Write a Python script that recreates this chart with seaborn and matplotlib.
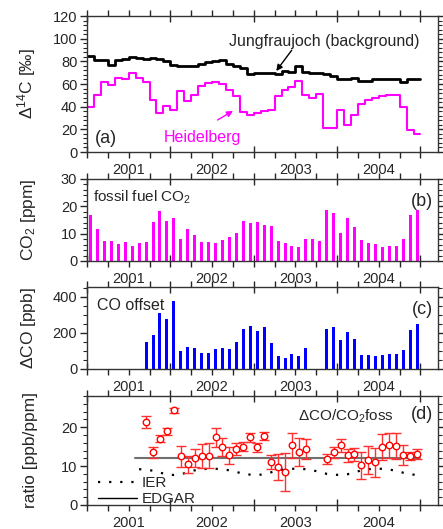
import numpy as np
import pandas as pd
import seaborn as sns
import matplotlib.pyplot as plt
from matplotlib.ticker import MultipleLocator, FixedLocator, FuncFormatter
from matplotlib.lines import Line2D

nan = np.nan

# monthly values, Jan 2001 .. Dec 2004
jungfraujoch = [85, 81, 81, 77, 81, 82.5, 83.5, 83, 82, 83, 82, 80,
                77, 76, 76, 75.5, 78, 79.5, 80.5, 81, 78, 76, 74, 68.5,
                70, 70, 70, 69, 71.5, 71, 76, 71, 70, 70, 69, 67,
                64, 64.5, 65, 63, 63, 64, 64, 64, 64, 62, 64, 64]
heidelberg = [40, 50, 62, 59, 65, 64, 70, 65, 62, 46, 34, 41,
              37, 54, 45, 50, 58, 61, 62, 60, 55, 49, 35, 33,
              34, 36, 37, 49, 55, 57, 63, 50, 48, 51, 21, 21,
              37, 24, 33, 42, 46, 48, 49, 50, 50, 40, 19, 16]
co2_foss = [16.8, 11.6, 7.3, 7.3, 6.2, 6.9, 5.4, 6.7, 6.9, 14.1, 18.4, 14.7,
            15.7, 8.0, 11.6, 9.5, 6.9, 6.9, 6.5, 7.7, 8.7, 10.2, 14.8, 13.8,
            14.2, 13.2, 12.7, 7.3, 6.5, 5.4, 5.1, 8.0, 8.1, 7.3, 18.6, 17.6,
            10.4, 15.7, 12.5, 7.8, 6.5, 6.1, 5.3, 5.4, 5.4, 8.2, 17.0, 18.6]
co_offset = [nan] * 8 + [147, 188, 308, 275, 378, 100, 122, 116, 88, 88,
                         109, 116, 112, 147, 223, 240, 208, 232, 142, 74,
                         59, 81, 72, 116, nan, nan, 219, 234, 160, 205,
                         164, 79, 76, 72, 76, 81, 81, 105, 216, 247]
ratio = [nan] * 8 + [21.3, 13.5, 17.0, 18.9, 24.3, 12.5, 10.5, 12.1, 12.5, 12.6,
                     17.4, 15.0, 12.8, 14.4, 15.0, 17.4, 14.8, 17.7, 11.0, 9.8,
                     8.5, 15.3, 13.6, 14.3, nan, nan, 11.8, 13.5, 15.3, 12.8,
                     13.0, 10.2, 11.6, 11.0, 14.9, 15.3, 15.2, 12.8, 12.6, 13.2]
ratio_err = [nan] * 8 + [1.5, 1.3, 0.9, 0.8, 0.6, 2.7, 2.2, 2.4, 3.1, 3.2,
                         2.5, 2.3, 2.2, 1.6, 1.2, 1.2, 1.2, 1.0, 1.8, 3.4,
                         4.8, 3.3, 3.7, 2.6, nan, nan, 1.3, 1.3, 1.7, 1.7,
                         1.7, 3.5, 3.6, 3.7, 3.4, 3.3, 3.3, 2.6, 1.1, 1.3]
# IER ratio, Aug 2001 .. Dec 2004
ier = [9.2, 9.1, 8.8, 8.3, 7.9, 7.7, 7.9, 8.4, 8.9, 9.2, 9.3, 9.3, 9.2, 8.9,
       8.5, 8.0, 7.8, 7.7, 7.9, 8.4, 8.9, 9.2, 9.3, 9.3, 9.2, 8.9, 8.5, 8.0,
       7.8, 7.7, 7.9, 8.4, 8.9, 9.2, 9.3, 9.3, 9.1, 8.8, 8.3, 7.9, 7.7]
edgar_x = [2001.58, 2005.0]
edgar_y = [12.0, 12.0]
years = [2001, 2002, 2003, 2004]

t = 2001 + np.arange(48) / 12.0
df = pd.DataFrame({'t': t, 'jfj': jungfraujoch, 'hd': heidelberg,
                   'co2': co2_foss, 'co': co_offset,
                   'ratio': ratio, 'err': ratio_err})
df['tm'] = df['t'] + 1 / 24  # mid-month
# step lines need the end point
steps = pd.concat([df, pd.DataFrame({'t': [2005.0], 'jfj': [jungfraujoch[-1]],
                                     'hd': [heidelberg[-1]]})], ignore_index=True)

sns.set_style('ticks')
plt.rcParams['font.family'] = ['Liberation Sans', 'DejaVu Sans']
plt.rcParams['mathtext.fontset'] = 'custom'
plt.rcParams['mathtext.rm'] = 'Liberation Sans'
plt.rcParams['mathtext.it'] = 'Liberation Sans'
plt.rcParams['mathtext.default'] = 'regular'

fig = plt.figure(figsize=(4.43, 5.29), dpi=100)
L, W = 87 / 443, 351 / 443
ax_a = fig.add_axes([L, 1 - 152 / 529, W, 136 / 529])
ax_b = fig.add_axes([L, 1 - 261 / 529, W, 82 / 529])
ax_c = fig.add_axes([L, 1 - 369 / 529, W, 82 / 529])
ax_d = fig.add_axes([L, 1 - 505 / 529, W, 109 / 529])

quarters = [y + q for y in years for q in (0.25, 0.5, 0.75)] + [2005.25]


def year_fmt(x, pos):
    return str(int(x)) if abs(x % 1 - 0.5) < 1e-6 else ''


for ax in (ax_a, ax_b, ax_c, ax_d):
    ax.set_xlim(2001.0, 2005.21)
    ax.xaxis.set_major_locator(FixedLocator([2001, 2002, 2003, 2004, 2005]))
    ax.xaxis.set_major_formatter(FuncFormatter(lambda x, p: ''))
    ax.xaxis.set_minor_locator(FixedLocator(quarters))
    ax.xaxis.set_minor_formatter(FuncFormatter(year_fmt))
    ax.tick_params(axis='x', which='major', direction='inout', length=9,
                   width=1, top=True)
    ax.tick_params(axis='x', which='minor', direction='out', length=4,
                   width=1, top=True, labelsize=10.5, pad=4)
    ax.tick_params(axis='y', which='major', direction='out', length=5,
                   width=1, right=True, labelsize=10.5, pad=2)
    ax.tick_params(axis='y', which='minor', direction='out', length=3,
                   width=0.8, right=True)
    for s in ax.spines.values():
        s.set_linewidth(1)
        s.set_color('#333333')
    ax.yaxis.set_label_coords(-0.14, 0.5)

# (a) 14C
sns.lineplot(data=steps, x='t', y='jfj', drawstyle='steps-post', color='black',
             lw=2, ax=ax_a)
sns.lineplot(data=steps, x='t', y='hd', drawstyle='steps-post', color='#ff00ff',
             lw=1.5, ax=ax_a)
ax_a.set_ylim(0, 120)
ax_a.yaxis.set_major_locator(MultipleLocator(20))
ax_a.yaxis.set_minor_locator(MultipleLocator(4))
ax_a.set_ylabel('$\\Delta^{14}$C [‰]', fontsize=12.5)
ax_a.text(0.405, 0.81, 'Jungfraujoch (background)', transform=ax_a.transAxes,
          fontsize=11.5, va='center')
ax_a.annotate('', xy=(2003.25, 69.5), xytext=(0.588, 0.765),
              textcoords='axes fraction',
              arrowprops=dict(arrowstyle='-|>', color='black', lw=1,
                              mutation_scale=9))
ax_a.text(0.328, 0.105, 'Heidelberg', transform=ax_a.transAxes, color='#ff00ff',
          fontsize=11.5, ha='center', va='center')
ax_a.annotate('', xy=(2002.78, 37.5), xytext=(0.365, 0.225),
              textcoords='axes fraction',
              arrowprops=dict(arrowstyle='-|>', color='#ff00ff', lw=1,
                              mutation_scale=9))
ax_a.text(0.022, 0.1, '(a)', transform=ax_a.transAxes, fontsize=13,
          va='center')

# (b) fossil fuel CO2
ax_b.bar(df['tm'], df['co2'], width=0.036, color='#ff00ff', linewidth=0)
ax_b.set_ylim(0, 30)
ax_b.yaxis.set_major_locator(MultipleLocator(10))
ax_b.yaxis.set_minor_locator(MultipleLocator(2))
ax_b.set_ylabel('CO$_2$ [ppm]', fontsize=12.5)
ax_b.text(0.017, 0.78, 'fossil fuel CO$_2$', transform=ax_b.transAxes,
          fontsize=11, va='center')
ax_b.text(0.986, 0.72, '(b)', transform=ax_b.transAxes, fontsize=13,
          ha='right', va='center')

# (c) CO offset
ax_c.bar(df['tm'], df['co'], width=0.036, color='#0000ff', linewidth=0)
ax_c.set_ylim(0, 454)
ax_c.yaxis.set_major_locator(MultipleLocator(200))
ax_c.yaxis.set_minor_locator(MultipleLocator(50))
ax_c.set_ylabel('$\\Delta$CO [ppb]', fontsize=12.5)
ax_c.text(0.028, 0.78, 'CO offset', transform=ax_c.transAxes,
          fontsize=11.5, va='center')
ax_c.text(0.986, 0.72, '(c)', transform=ax_c.transAxes, fontsize=13,
          ha='right', va='center')

# (d) ratio
ax_d.plot(np.array(edgar_x), edgar_y, color='#707070', lw=1.5)
ax_d.plot(df['tm'][7:], ier, color='black', lw=1.6, linestyle=(0, (1, 4)))
ax_d.errorbar(df['tm'], df['ratio'], yerr=df['err'], fmt='none',
              ecolor='#ff3030', elinewidth=1, capsize=3.5, capthick=1)
sns.scatterplot(data=df, x='tm', y='ratio', marker='o', s=22,
                facecolor='white', edgecolor='#ff0000', linewidth=1,
                ax=ax_d, zorder=5)
ax_d.set_ylim(0, 28)
ax_d.yaxis.set_major_locator(MultipleLocator(10))
ax_d.yaxis.set_minor_locator(MultipleLocator(2))
ax_d.set_ylabel('ratio [ppb/ppm]', fontsize=12.5)
ax_d.text(0.60, 0.816, '$\\Delta$CO/CO$_2$foss', transform=ax_d.transAxes,
          fontsize=11, va='center')
ax_d.text(0.986, 0.826, '(d)', transform=ax_d.transAxes, fontsize=13,
          ha='right', va='center')
handles = [Line2D([], [], color='black', lw=1.6, linestyle=(0, (1, 4))),
           Line2D([], [], color='black', lw=1)]
ax_d.legend(handles, ['IER', 'EDGAR'], loc='lower left', frameon=False,
            bbox_to_anchor=(0.0, -0.11), fontsize=11, handlelength=2.6,
            handletextpad=0.3, labelspacing=0.15, borderaxespad=0.3)

for ax in (ax_a, ax_b, ax_c, ax_d):
    ax.set_xlabel('')

fig.savefig('out.png', dpi=100)
